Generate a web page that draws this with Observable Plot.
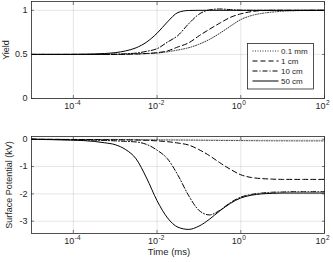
<!DOCTYPE html>
<html>
<head>
<meta charset="utf-8">
<script src="https://cdn.jsdelivr.net/npm/d3@7"></script>
<script src="https://cdn.jsdelivr.net/npm/@observablehq/plot@0.6"></script>
<style>
  html, body { margin: 0; padding: 0; background: #fff; }
  #chart { width: 333px; height: 262px; overflow: hidden; }
  #chart svg { display: block; }
</style>
</head>
<body>
<div id="chart"></div>
<script>
// ---- data ----
const time = [1e-5, 1.78e-5, 3.16e-5, 5.62e-5, 1e-4, 1.78e-4, 3.16e-4, 5.62e-4, 1e-3, 1.78e-3,
  3.16e-3, 5.62e-3, 0.01, 0.0178, 0.0316, 0.0562, 0.1, 0.178, 0.316, 0.562,
  1, 1.78, 3.16, 5.62, 10, 17.8, 31.6, 56.2, 100];

const seriesNames = ["0.1 mm", "1 cm", "10 cm", "50 cm"];

const yield01mm = [0.5, 0.5, 0.5, 0.5, 0.5, 0.5, 0.5, 0.5, 0.5, 0.502,
  0.505, 0.51, 0.515, 0.53, 0.55, 0.575, 0.615, 0.67, 0.74, 0.82,
  0.895, 0.94, 0.965, 0.98, 0.99, 0.995, 0.998, 1, 1];
const yield1cm = [0.5, 0.5, 0.5, 0.5, 0.5, 0.5, 0.5, 0.5, 0.5, 0.502,
  0.505, 0.51, 0.52, 0.54, 0.585, 0.63, 0.71, 0.785, 0.855, 0.92,
  0.96, 0.985, 0.997, 1, 1, 1, 1, 1, 1];
const yield10cm = [0.5, 0.5, 0.5, 0.5, 0.5, 0.5, 0.5, 0.501, 0.503, 0.507,
  0.515, 0.535, 0.565, 0.64, 0.715, 0.845, 0.955, 1.005, 1.015, 1.008,
  1.002, 1, 1, 1, 1, 1, 1, 1, 1];
const yield50cm = [0.5, 0.5, 0.5, 0.5, 0.501, 0.502, 0.505, 0.51, 0.52, 0.54,
  0.575, 0.64, 0.74, 0.87, 0.975, 0.998, 1, 1, 1, 1,
  1, 1, 1, 1, 1, 1, 1, 1, 1];

const potential01mm = [0, -0.003, -0.005, -0.007, -0.01, -0.011, -0.012, -0.014, -0.015, -0.017,
  -0.02, -0.022, -0.025, -0.028, -0.03, -0.033, -0.036, -0.04, -0.043, -0.047,
  -0.05, -0.053, -0.055, -0.057, -0.058, -0.059, -0.06, -0.06, -0.06];
const potential1cm = [0, -0.003, -0.005, -0.008, -0.01, -0.012, -0.015, -0.018, -0.02, -0.025,
  -0.03, -0.04, -0.06, -0.09, -0.14, -0.21, -0.38, -0.6, -0.86, -1.1,
  -1.3, -1.4, -1.44, -1.46, -1.47, -1.47, -1.47, -1.47, -1.47];
const potential10cm = [0, -0.005, -0.01, -0.015, -0.02, -0.025, -0.035, -0.045, -0.06, -0.08,
  -0.1, -0.19, -0.4, -0.72, -1.32, -2.05, -2.6, -2.77, -2.6, -2.32,
  -2.12, -2.02, -1.97, -1.94, -1.93, -1.92, -1.92, -1.92, -1.92];
const potential50cm = [0, -0.01, -0.015, -0.025, -0.035, -0.05, -0.08, -0.13, -0.2, -0.38,
  -0.72, -1.42, -2.25, -2.88, -3.22, -3.3, -3.18, -2.93, -2.62, -2.35,
  -2.15, -2.05, -2.0, -1.98, -1.97, -1.97, -1.97, -1.97, -1.97];

const xTickValues = [1e-4, 1e-2, 1, 100];
const xTickExponents = ["-4", "-2", "0", "2"];
const yieldTicks = [0, 0.5, 1];
const potentialTicks = [-3, -2, -1, 0];

// ---- styles ----
const dashes = ["1,1.5", "5,3", "5,2,1,2", null];
const widths = [0.8, 1, 1, 1];
const ink = "#262626";
const font = "'Liberation Sans', Arial, Helvetica, sans-serif";

const yieldSeries = [yield01mm, yield1cm, yield10cm, yield50cm];
const potentialSeries = [potential01mm, potential1cm, potential10cm, potential50cm];

function rowsFor(seriesList) {
  return seriesList.map((vals, s) => time.map((t, i) => ({series: seriesNames[s], t, v: vals[i]})));
}

function commonMarks(yTicks) {
  const expOf = new Map(xTickValues.map((d, i) => [d, xTickExponents[i]]));
  return [
    Plot.gridX(xTickValues, {stroke: "#000", strokeOpacity: 0.1, strokeWidth: 1}),
    Plot.gridY(yTicks, {stroke: "#000", strokeOpacity: 0.1, strokeWidth: 1}),
    Plot.axisX(xTickValues, {anchor: "bottom", tickSize: 0, tickPadding: 4.5, tickFormat: () => "10",
      textAnchor: "end", dx: 1, fontSize: 9, fill: ink, label: null}),
    Plot.axisX(xTickValues, {anchor: "bottom", tickSize: 0, tickPadding: 2, tickFormat: d => expOf.get(d),
      textAnchor: "start", dx: 1.5, fontSize: 6.5, fill: ink, label: null}),
    Plot.axisX(xTickValues, {anchor: "bottom", tickSize: -3, tickFormat: () => "", stroke: ink, strokeWidth: 0.6, label: null}),
    Plot.axisX(xTickValues, {anchor: "top", tickSize: -3, tickFormat: () => "", stroke: ink, strokeWidth: 0.6, label: null}),
    Plot.axisY(yTicks, {anchor: "right", tickSize: -3, tickFormat: () => "", stroke: ink, strokeWidth: 0.6, label: null})
  ];
}

function lineMarks(rows) {
  return rows.map((r, s) => Plot.line(r, {
    x: "t", y: "v", stroke: "#000", strokeWidth: widths[s],
    strokeDasharray: dashes[s] ?? undefined, curve: "monotone-x"
  }));
}

const yieldPlot = Plot.plot({
  width: 333, height: 118,
  marginLeft: 31, marginRight: 9, marginTop: 1, marginBottom: 20,
  style: {fontFamily: font, fontSize: "9px", color: ink, background: "#fff", overflow: "visible"},
  x: {type: "log", domain: [1e-5, 1e2]},
  y: {domain: [0, 1.1]},
  marks: [
    ...commonMarks(yieldTicks),
    Plot.axisY(yieldTicks, {anchor: "left", tickSize: -3, tickPadding: 7, tickFormat: d => String(d),
      fontSize: 9, fill: ink, stroke: ink, strokeWidth: 0.6,
      label: "Yield", labelAnchor: "center", labelOffset: 29, labelArrow: "none"}),
    ...lineMarks(rowsFor(yieldSeries)),
    Plot.frame({stroke: ink, strokeWidth: 0.8})
  ]
});

const potentialPlot = Plot.plot({
  width: 333, height: 144,
  marginLeft: 31, marginRight: 9, marginTop: 18, marginBottom: 29,
  style: {fontFamily: font, fontSize: "9px", color: ink, background: "#fff", overflow: "visible"},
  x: {type: "log", domain: [1e-5, 1e2]},
  y: {domain: [-3.45, 0.1]},
  marks: [
    ...commonMarks(potentialTicks),
    Plot.axisY(potentialTicks, {anchor: "left", tickSize: -3, tickPadding: 7, tickFormat: d => String(d),
      fontSize: 9, fill: ink, stroke: ink, strokeWidth: 0.6,
      label: "Surface Potential (kV)", labelAnchor: "center", labelOffset: 26, labelArrow: "none"}),
    ...lineMarks(rowsFor(potentialSeries)),
    Plot.text(["Time (ms)"], {text: d => d, frameAnchor: "bottom", dy: 21, dx: -9, fontSize: 9.5, fill: ink}),
    Plot.frame({stroke: ink, strokeWidth: 0.8})
  ]
});

const chart = document.getElementById("chart");
chart.appendChild(yieldPlot);
chart.appendChild(potentialPlot);

// ---- legend (overlay inside the top axes) ----
const svg = d3.select(yieldPlot);
const lg = svg.append("g").attr("font-family", font).attr("font-size", 8).attr("text-anchor", "start");
lg.append("rect").attr("x", 247.5).attr("y", 43.5).attr("width", 66).attr("height", 45.5)
  .attr("fill", "#fff").attr("stroke", ink).attr("stroke-width", 0.8);
seriesNames.forEach((name, i) => {
  const y = 51 + i * 10;
  lg.append("line").attr("x1", 252.5).attr("x2", 278.5).attr("y1", y).attr("y2", y)
    .attr("stroke", "#000").attr("stroke-width", widths[i])
    .attr("stroke-dasharray", dashes[i]);
  lg.append("text").attr("x", 281).attr("y", y).attr("dy", "0.35em")
    .attr("text-anchor", "start").attr("fill", ink).text(name);
});
</script>
</body>
</html>
